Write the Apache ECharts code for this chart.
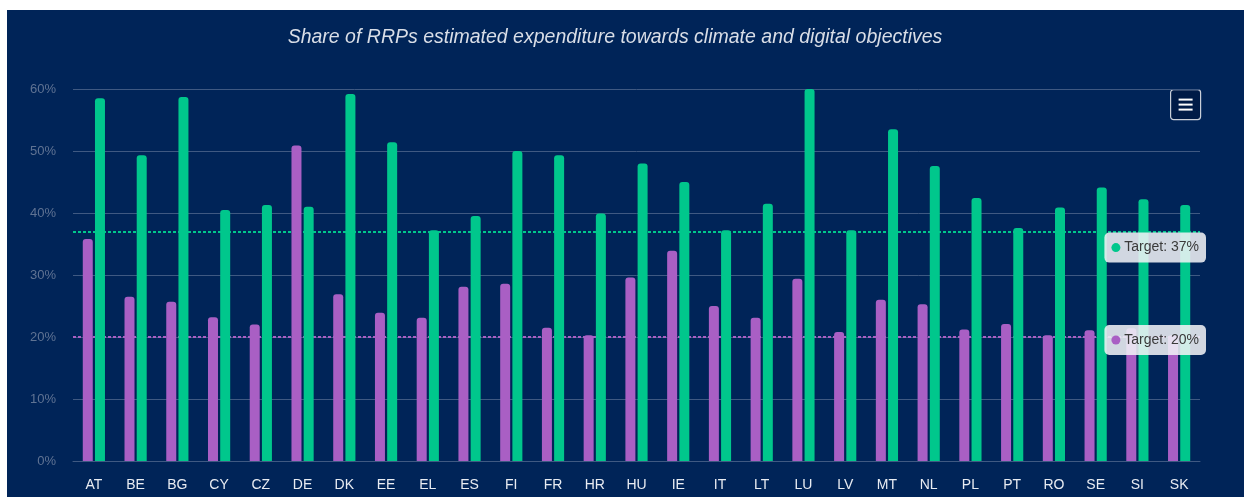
<!DOCTYPE html>
<html>
<head>
<meta charset="utf-8">
<script src="https://cdn.jsdelivr.net/npm/echarts@6/dist/echarts.min.js"></script>
<style>
html,body{margin:0;padding:0;background:#ffffff;width:1244px;height:497px;overflow:hidden;}
#chart{position:absolute;left:7px;top:10px;width:1237px;height:487px;background:#002458;}
</style>
</head>
<body>
<div id="chart"></div>
<script>
const categories = ["AT","BE","BG","CY","CZ","DE","DK","EE","EL","ES","FI","FR","HR","HU","IE","IT","LT","LU","LV","MT","NL","PL","PT","RO","SE","SI","SK"];
const digitalValues = [35.8,26.5,25.7,23.2,22.0,50.9,26.9,23.9,23.1,28.1,28.6,21.5,20.3,29.6,33.9,25.0,23.1,29.4,20.8,26.0,25.3,21.2,22.1,20.3,21.1,21.4,20.3];
const climateValues = [58.5,49.3,58.7,40.5,41.3,41.0,59.2,51.4,37.2,39.5,50.0,49.3,39.9,48.0,45.0,37.2,41.5,61.0,37.2,53.5,47.6,42.4,37.6,40.9,44.1,42.2,41.3];
const yTicks = [0,10,20,30,40,50,60];
const climateTarget = 37;
const digitalTarget = 20;
const titleText = "Share of RRPs estimated expenditure towards climate and digital objectives";

const GREEN = "#00c78c";
const PURPLE = "#a95fc4";
const FONT = "'Liberation Sans', Arial, sans-serif";

function targetLabel(color, val, offY) {
  return {
    show: true,
    position: 'insideEndBottom',
    distance: 0,
    offset: [6, offY],
    formatter: '{dot|} Target: ' + val + '%',
    backgroundColor: 'rgba(240,242,246,0.87)',
    borderRadius: 5,
    padding: [7, 7, 7, 7],
    color: '#3a3a3a',
    fontFamily: FONT,
    fontSize: 14,
    lineHeight: 16,
    rich: {
      dot: { width: 9, height: 9, borderRadius: 5, backgroundColor: color }
    }
  };
}

const chart = echarts.init(document.getElementById('chart'), null, {renderer: 'canvas'});
chart.setOption({
  animation: false,
  backgroundColor: '#002458',
  title: {
    text: titleText,
    left: 603,
    top: 13,
    textAlign: 'center',
    textStyle: { color: '#d9dee7', fontSize: 19.5, fontStyle: 'italic', fontWeight: 'normal', fontFamily: FONT }
  },
  grid: { left: 66, right: 44, top: 79, bottom: 36 },
  xAxis: {
    type: 'category',
    data: categories,
    axisLine: { show: true, lineStyle: { color: '#3f5982', width: 1 } },
    axisTick: { show: false },
    axisLabel: { color: '#e8ecf2', fontSize: 14, fontFamily: FONT, margin: 17 }
  },
  yAxis: {
    type: 'value',
    min: yTicks[0],
    max: yTicks[yTicks.length - 1],
    interval: 10,
    axisLine: { show: false },
    axisTick: { show: false },
    splitLine: { lineStyle: { color: '#3f5982', width: 1 } },
    axisLabel: { color: '#5f7393', fontSize: 13, fontFamily: FONT, margin: 17, formatter: '{value}%' }
  },
  series: [
    {
      name: 'Digital',
      type: 'bar',
      data: digitalValues,
      barWidth: 10,
      barGap: '22%',
      itemStyle: { color: PURPLE, borderRadius: [3, 3, 0, 0] },
      markLine: {
        silent: true,
        z: 1,
        symbol: 'none',
        label: { show: false },
        data: [
          { yAxis: climateTarget, lineStyle: { color: GREEN, type: [3, 2], width: 2 } },
          { yAxis: digitalTarget, lineStyle: { color: PURPLE, type: [3, 2], width: 2 } }
        ]
      }
    },
    {
      name: 'Climate',
      type: 'bar',
      data: climateValues,
      barWidth: 10,
      itemStyle: { color: GREEN, borderRadius: [3, 3, 0, 0] },
      markLine: {
        silent: true,
        z: 10,
        symbol: 'none',
        data: [
          { yAxis: climateTarget, lineStyle: { color: 'rgba(0,0,0,0)', width: 1 }, label: targetLabel(GREEN, climateTarget, 1) },
          { yAxis: digitalTarget, lineStyle: { color: 'rgba(0,0,0,0)', width: 1 }, label: targetLabel(PURPLE, digitalTarget, -12) }
        ]
      }
    }
  ],
  graphic: [
    {
      type: 'group',
      left: 1163,
      top: 79,
      children: [
        { type: 'rect', shape: { x: 0, y: 0, width: 30, height: 30, r: 3 }, style: { fill: '#001b47', stroke: '#c9cfd9', lineWidth: 1.2 } },
        { type: 'line', shape: { x1: 8, y1: 10, x2: 22, y2: 10 }, style: { stroke: '#ffffff', lineWidth: 2 } },
        { type: 'line', shape: { x1: 8, y1: 15, x2: 22, y2: 15 }, style: { stroke: '#ffffff', lineWidth: 2 } },
        { type: 'line', shape: { x1: 8, y1: 20, x2: 22, y2: 20 }, style: { stroke: '#ffffff', lineWidth: 2 } }
      ]
    }
  ]
});
</script>
</body>
</html>
